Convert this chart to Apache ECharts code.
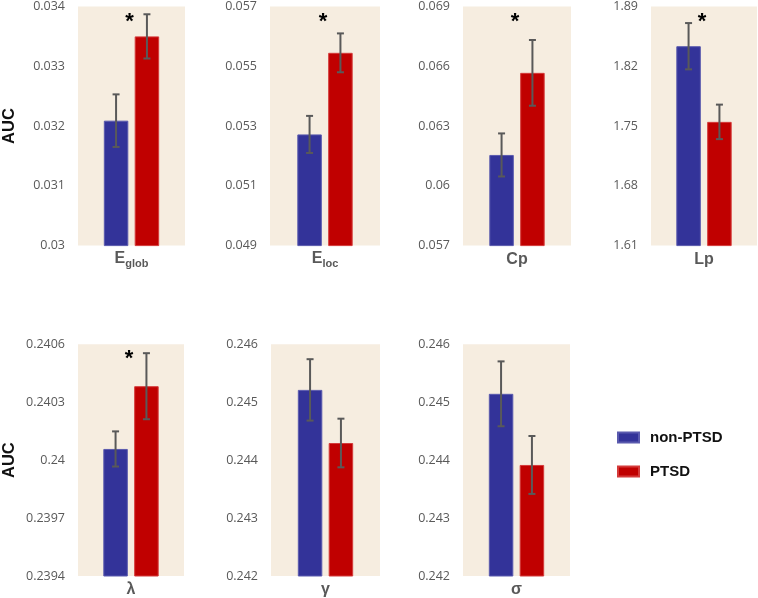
<!DOCTYPE html>
<html>
<head>
<meta charset="utf-8">
<script src="https://cdn.jsdelivr.net/npm/echarts@6/dist/echarts.min.js"></script>
<style>
html,body{margin:0;padding:0;background:#fff;}
#c{width:758px;height:598px;}
</style>
</head>
<body>
<div id="c"></div>
<script>
// ---- data ----
var metrics = ['Eglob', 'Eloc', 'Cp', 'Lp', 'λ', 'γ', 'σ'];
var groups = ['non-PTSD', 'PTSD'];
var nonPtsdMean = [0.03209, 0.05272, 0.06155, 1.8435, 0.240058, 0.245213, 0.245145];
var nonPtsdErr  = [0.00044, 0.00062, 0.00108, 0.0271, 0.000091, 0.00053, 0.00056];
var ptsdMean    = [0.03350, 0.05545, 0.06567, 1.7549, 0.240383, 0.244296, 0.243917];
var ptsdErr     = [0.00037, 0.00065, 0.00165, 0.0202, 0.000171, 0.00042, 0.00050];
var significant = [true, true, true, true, true, false, false];
var ticks0 = [0.03, 0.031, 0.032, 0.033, 0.034];
var ticks1 = [0.049, 0.051, 0.053, 0.055, 0.057];
var ticks2 = [0.057, 0.06, 0.063, 0.066, 0.069];
var ticks3 = [1.61, 1.68, 1.75, 1.82, 1.89];
var ticks4 = [0.2394, 0.2397, 0.24, 0.2403, 0.2406];
var ticks5 = [0.242, 0.243, 0.244, 0.245, 0.246];
var ticks6 = [0.242, 0.243, 0.244, 0.245, 0.246];
var tickSets = [ticks0, ticks1, ticks2, ticks3, ticks4, ticks5, ticks6];

// ---- layout ----
var gridBoxes = [
  {left: 75,  top: 6,     width: 110, height: 239.6},
  {left: 270, top: 6,     width: 110, height: 239.6},
  {left: 463, top: 6,     width: 108, height: 239.6},
  {left: 651, top: 6,     width: 106, height: 239.6},
  {left: 73,  top: 344.3, width: 111, height: 232.4},
  {left: 271, top: 344.3, width: 109, height: 232.4},
  {left: 463, top: 344.3, width: 107, height: 232.4}
];
var colors = ['#333399', '#C00000'];
var borders = ['#5a5aae', '#d43a3a'];
var BAR_W = 24.5, BAR_GAP = 0.26;
var OFFSET = (BAR_W + BAR_W * BAR_GAP) / 2;

var grids = [], xAxes = [], yAxes = [], series = [];
function fmt(v){ return String(parseFloat(v.toFixed(6))); }

metrics.forEach(function(m, i){
  var g = gridBoxes[i];
  grids.push({left: g.left, top: g.top, width: g.width, height: g.height,
    show: true, backgroundColor: '#F6EDE0', borderWidth: 0});
  var isSub = (m === 'Eglob' || m === 'Eloc');
  xAxes.push({
    type: 'category', gridIndex: i, data: [m],
    axisLine: {show: false}, axisTick: {show: false},
    axisLabel: {
      margin: isSub ? 1 : 2,
      formatter: function(v){
        if (v === 'Eglob') return '{b|E}{s|glob}';
        if (v === 'Eloc') return '{b|E}{s|loc}';
        return '{b|' + v + '}';
      },
      rich: {
        b: {fontSize: 16, fontWeight: 'bold', color: '#595959', fontFamily: 'Liberation Sans', verticalAlign: 'bottom', lineHeight: 20},
        s: {fontSize: 11, fontWeight: 'bold', color: '#595959', fontFamily: 'Liberation Sans', verticalAlign: 'bottom', lineHeight: 20, padding: [0,0,-3,0]}
      }
    }
  });
  var t = tickSets[i];
  yAxes.push({
    type: 'value', gridIndex: i, min: t[0], max: t[t.length-1],
    splitLine: {show: false}, axisLine: {show: false}, axisTick: {show: false},
    axisLabel: {customValues: t, formatter: fmt, color: '#595959', fontSize: 12.5,
      fontFamily: 'Open Sans', margin: 13},
    name: (i === 0 || i === 4) ? 'AUC' : '',
    nameLocation: 'middle', nameRotate: 90, nameGap: 60,
    nameTextStyle: {fontSize: 16.5, fontWeight: 'bold', color: '#111', fontFamily: 'Liberation Sans'}
  });
  var means = [nonPtsdMean[i], ptsdMean[i]];
  var errs = [nonPtsdErr[i], ptsdErr[i]];
  groups.forEach(function(gname, k){
    series.push({
      type: 'bar', name: gname, xAxisIndex: i, yAxisIndex: i,
      data: [means[k]], barWidth: BAR_W, barGap: (BAR_GAP*100) + '%',
      itemStyle: {color: colors[k], borderColor: borders[k], borderWidth: 1},
      silent: true
    });
  });
  var yTop = t[t.length-1];
  series.push({
    type: 'custom', xAxisIndex: i, yAxisIndex: i, silent: true, z: 10,
    data: [[0, means[0], errs[0], -1, significant[i] ? 1 : 0, yTop], [0, means[1], errs[1], 1, 0, yTop]],
    encode: {x: 0, y: 1},
    renderItem: function(params, api){
      var c = api.value(0), mu = api.value(1), e = api.value(2), side = api.value(3);
      var top = api.coord([c, mu + e]), bot = api.coord([c, mu - e]);
      var x = top[0] + side * OFFSET;
      var children = [
        {type: 'line', shape: {x1: x, y1: top[1], x2: x, y2: bot[1]}, style: {stroke: '#595959', lineWidth: 2}},
        {type: 'line', shape: {x1: x-3.5, y1: top[1], x2: x+3.5, y2: top[1]}, style: {stroke: '#595959', lineWidth: 2}},
        {type: 'line', shape: {x1: x-3.5, y1: bot[1], x2: x+3.5, y2: bot[1]}, style: {stroke: '#595959', lineWidth: 2}}
      ];
      if (api.value(4) === 1) {
        var ymax = api.coord([c, api.value(5)]);
        children.push({type: 'text', style: {text: '*', x: ymax[0] - 2, y: ymax[1] + 15,
          fill: '#000', font: 'bold 22px Liberation Sans', align: 'center', verticalAlign: 'middle'}});
      }
      return {type: 'group', children: children};
    }
  });
});

var chart = echarts.init(document.getElementById('c'), null, {renderer: 'canvas'});
chart.setOption({
  animation: false,
  grid: grids, xAxis: xAxes, yAxis: yAxes, series: series,
  legend: {
    data: groups, orient: 'vertical', left: 612, top: 425,
    itemWidth: 21, itemHeight: 10, itemGap: 19, icon: 'rect',
    textStyle: {fontSize: 15, fontWeight: 'bold', color: '#111', fontFamily: 'Liberation Sans', padding: [0,0,0,6]},
    selectedMode: false
  }
});
</script>
</body>
</html>
